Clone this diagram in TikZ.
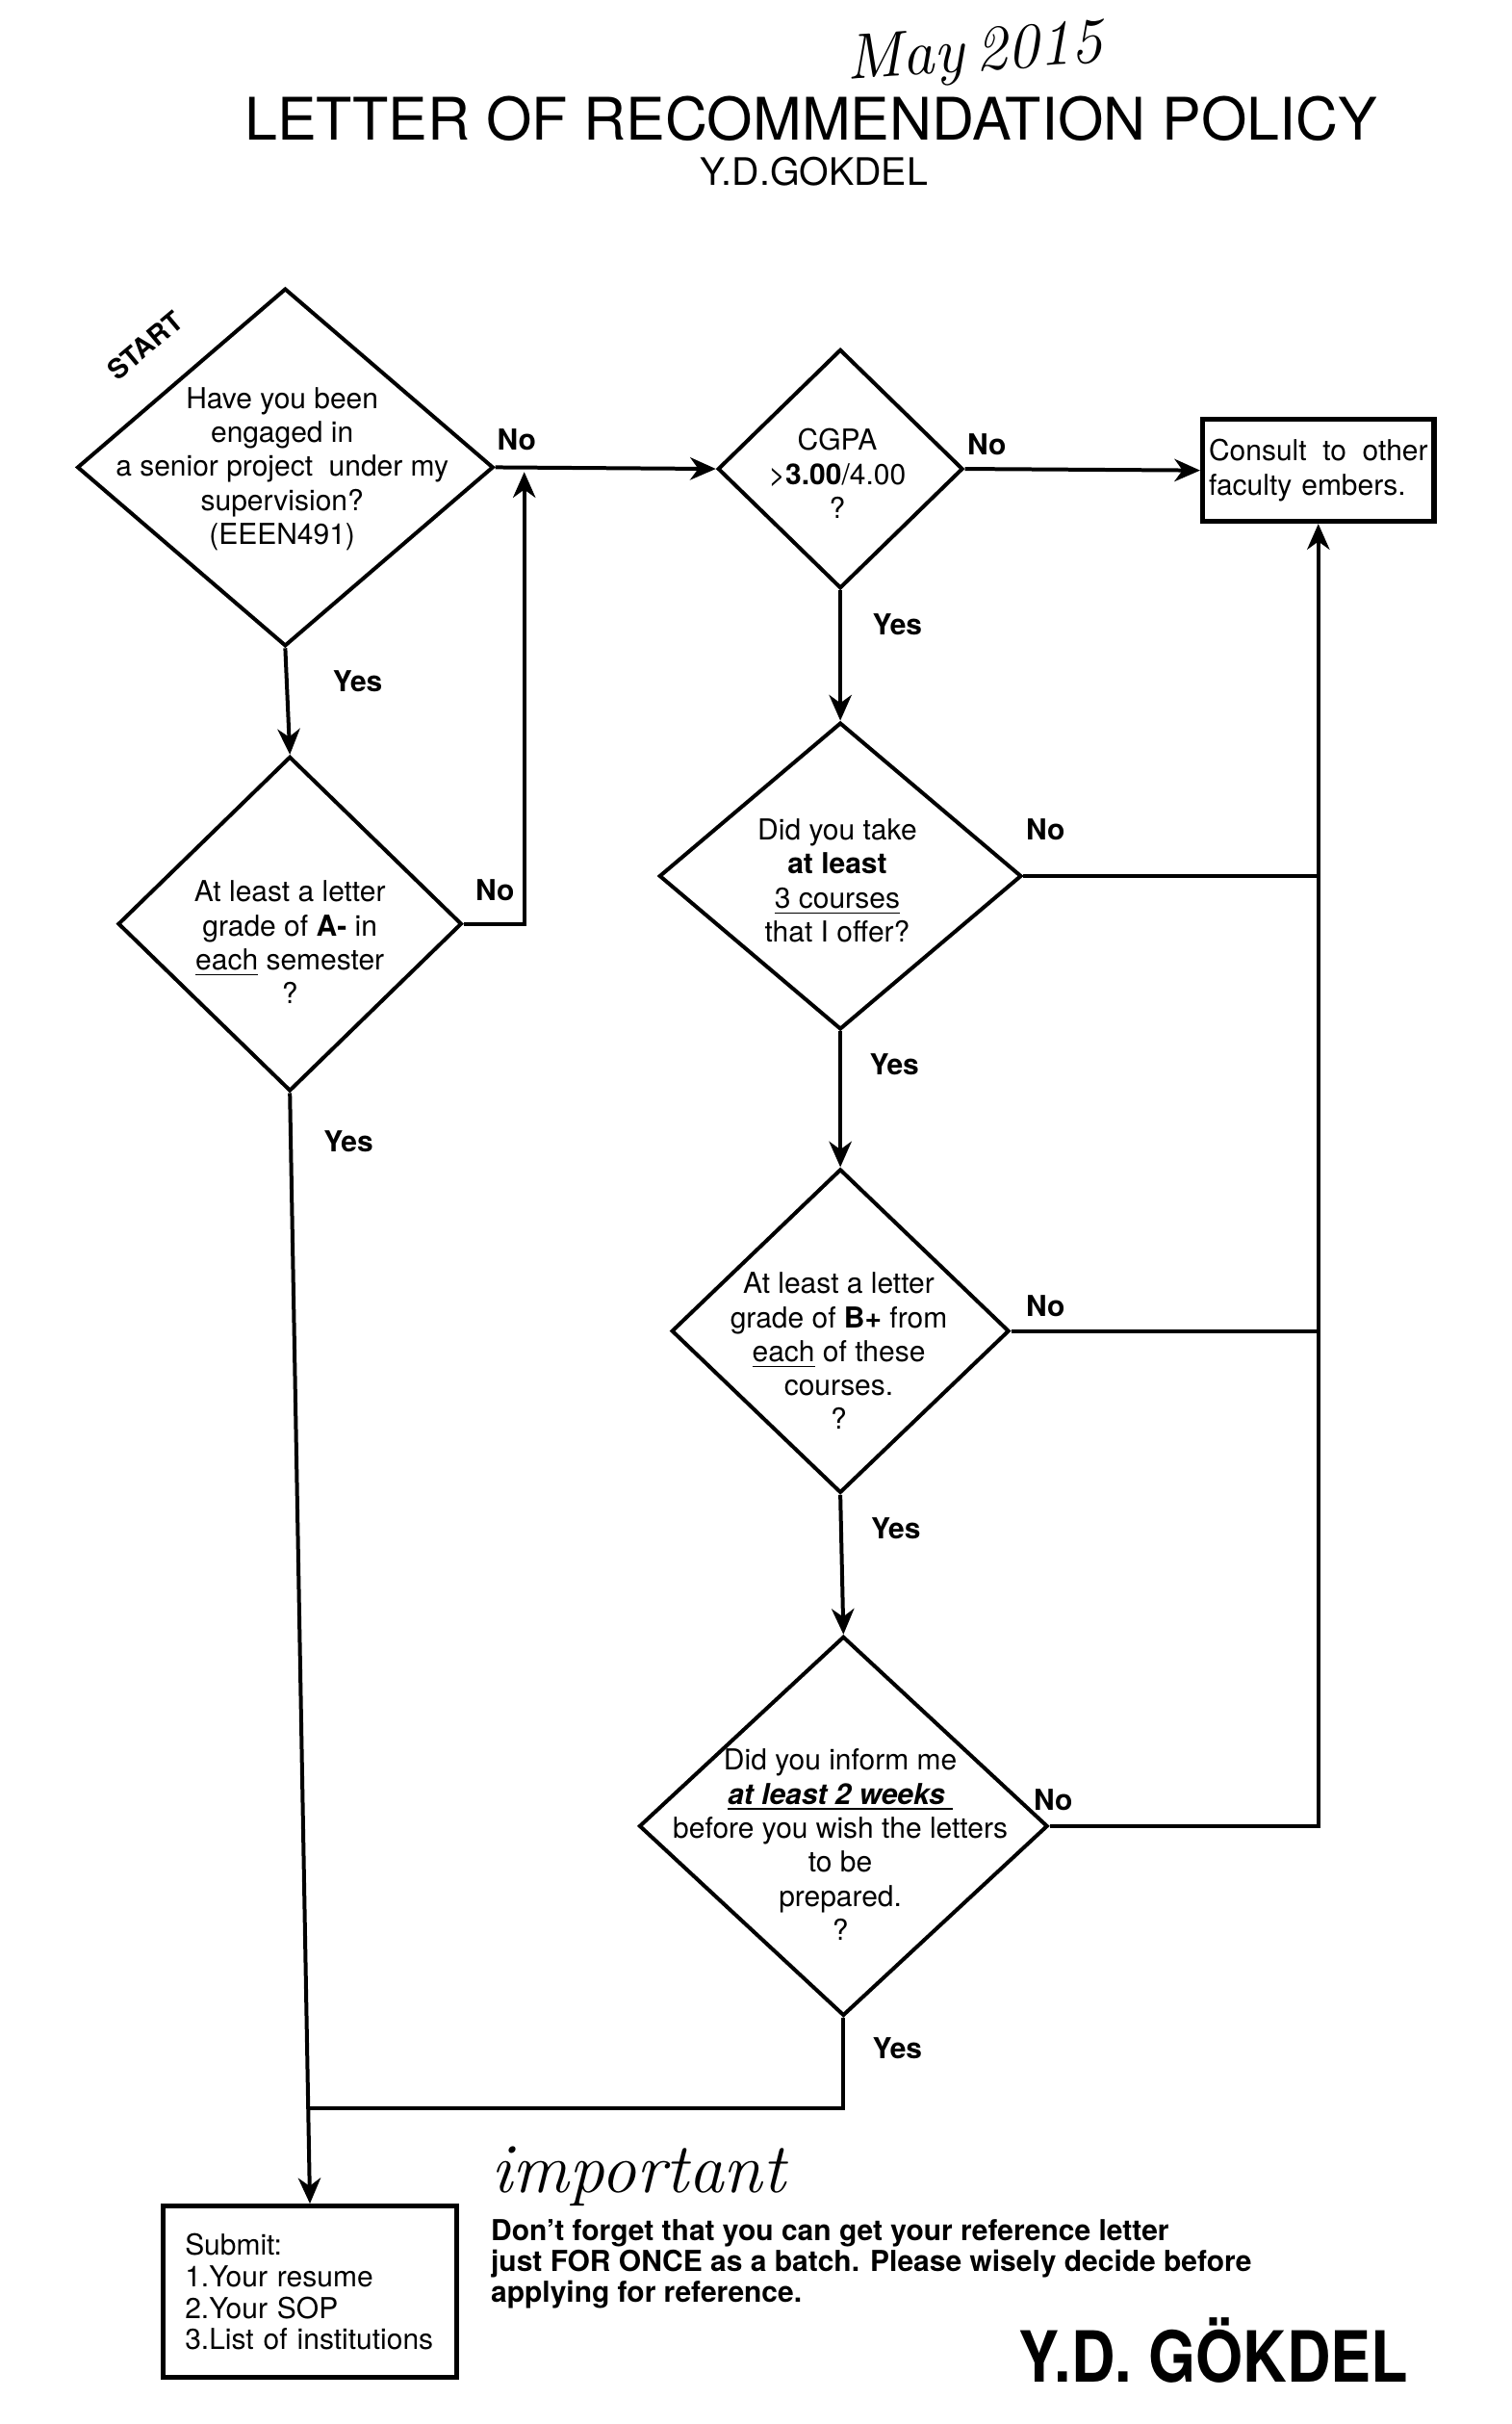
\documentclass[tikz,border=0pt]{standalone}
\usepackage{fontspec}
\setmainfont{TeX Gyre Heros}
\newfontfamily\handfont{Latin Modern Roman}
\usetikzlibrary{shapes.geometric,arrows.meta}
\begin{document}
\begin{tikzpicture}[x=0.481pt,y=-0.481pt,
  dia/.style={diamond, draw, line width=1.2pt, inner sep=0pt},
  dtext/.style={align=center, font=\fontsize{9}{10.6}\selectfont, inner sep=0pt},
  lbl/.style={font=\fontsize{9}{10}\selectfont\bfseries, inner sep=0pt},
  conn/.style={line width=1.2pt},
  arr/.style={conn, -{Stealth[length=8pt,width=7pt,inset=2.5pt]}},
  abox/.style={draw, line width=1.6pt, inner sep=0pt}]
\useasboundingbox (0,0) rectangle (980,1571.7);

% title
\node[font=\fontsize{18.3}{20}\selectfont] (title) at (526,77) {LETTER OF RECOMMENDATION POLICY};
\node[font=\fontsize{11.8}{13}\selectfont] (auth) at (528,111) {Y.D.GOKDEL};
\node[font=\handfont\itshape\fontsize{20}{22}\selectfont, rotate=4] (date) at (632,36) {May\,2015};

% diamonds
\node[dia, minimum width={270*0.481pt}, minimum height={232*0.481pt}] (d1) at (185,303) {};
\node[dtext] (d1t) at (183,304) {Have you been\\engaged in\\a senior project\ \ under my\\supervision?\\(EEEN491)};
\node[font=\fontsize{8.5}{9}\selectfont\bfseries, rotate=40, inner sep=0pt] (start) at (94,224) {START};

\node[dia, minimum width={159*0.481pt}, minimum height={155*0.481pt}] (d2) at (545,304) {};
\node[dtext] (d2t) at (543,307) {CGPA\\>\textbf{3.00}/4.00\\?};

\node[dia, minimum width={223*0.481pt}, minimum height={217*0.481pt}] (d3) at (188,599) {};
\node[dtext] (d3t) at (188,611) {At least a letter\\grade of \textbf{A-} in\\\underline{each} semester\\?};

\node[dia, minimum width={235*0.481pt}, minimum height={199*0.481pt}] (d4) at (545,568) {};
\node[dtext] (d4t) at (543,571) {Did you take\\\textbf{at least}\\\underline{3 courses}\\that I offer?};

\node[dia, minimum width={219*0.481pt}, minimum height={210*0.481pt}] (d5) at (545,863) {};
\node[dtext] (d5t) at (544,876) {At least a letter\\grade of \textbf{B+} from\\\underline{each} of these\\courses.\\?};

\node[dia, minimum width={265*0.481pt}, minimum height={246*0.481pt}] (d6) at (547,1184) {};
\node[dtext] (d6t) at (545,1196) {Did you inform me\\\underline{\textbf{\textit{at least 2 weeks\ }}}\\before you wish the letters\\to be\\prepared.\\?};

% boxes
\node[abox, minimum width={150*0.481pt}, minimum height={66*0.481pt}, text width={142*0.481pt}, align=left, font=\fontsize{9}{10.6}\selectfont] (consult) at (855,305) {Consult\hfill to\hfill other\\faculty embers.};
\node[abox, minimum width={190*0.481pt}, minimum height={111*0.481pt}, text width={162*0.481pt}, align=left, font=\fontsize{9}{9.8}\selectfont] (submit) at (201,1486) {Submit:\\1.Your resume\\2.Your SOP\\3.List of institutions};

% coordinates
\coordinate (loopend) at (340,306);
\coordinate (jn) at (200,1367);

% connectors
\draw[arr] (d1.east) -- (d2.west);
\draw[arr] (d2.east) -- (consult.west);
\draw[arr] (d1.south) -- (d3.north);
\draw[arr] (d3.east) -| (loopend);
\draw[arr] (d2.south) -- (d4.north);
\draw[arr] (d4.south) -- (d5.north);
\draw[arr] (d5.south) -- (d6.north);
\draw[conn] (d4.east) -- (d4.east -| consult.south);
\draw[conn] (d5.east) -- (d5.east -| consult.south);
\draw[arr] (d6.east) -| (consult.south);
\draw[conn] (d6.south) |- (jn);
\draw[arr] (d3.south) -- (submit.north);

% labels
\node[lbl] (l1) at (335,285) {No};
\node[lbl] (l2) at (640,288) {No};
\node[lbl] (l3) at (232,442) {Yes};
\node[lbl] (l4) at (321,577) {No};
\node[lbl] (l5) at (582,405) {Yes};
\node[lbl] (l6) at (678,538) {No};
\node[lbl] (l7) at (580,690) {Yes};
\node[lbl] (l8) at (226,740) {Yes};
\node[lbl] (l9) at (678,847) {No};
\node[lbl] (l10) at (581,991) {Yes};
\node[lbl] (l11) at (683,1167) {No};
\node[lbl] (l12) at (582,1328) {Yes};

% bottom notes
\node[font=\handfont\itshape\fontsize{22}{24}\selectfont] (imp) at (414,1411) {important};
\node[align=left, anchor=west, inner sep=0pt, font=\fontsize{9}{9.7}\selectfont\bfseries] (note) at (318,1468) {Don't forget that you can get your reference letter\\just FOR ONCE as a batch. Please wisely decide before\\applying for reference.};
\node[font=\fontsize{22}{24}\selectfont\bfseries, xscale=0.86] (sig) at (787,1524) {Y.D. GÖKDEL};
\end{tikzpicture}
\end{document}
